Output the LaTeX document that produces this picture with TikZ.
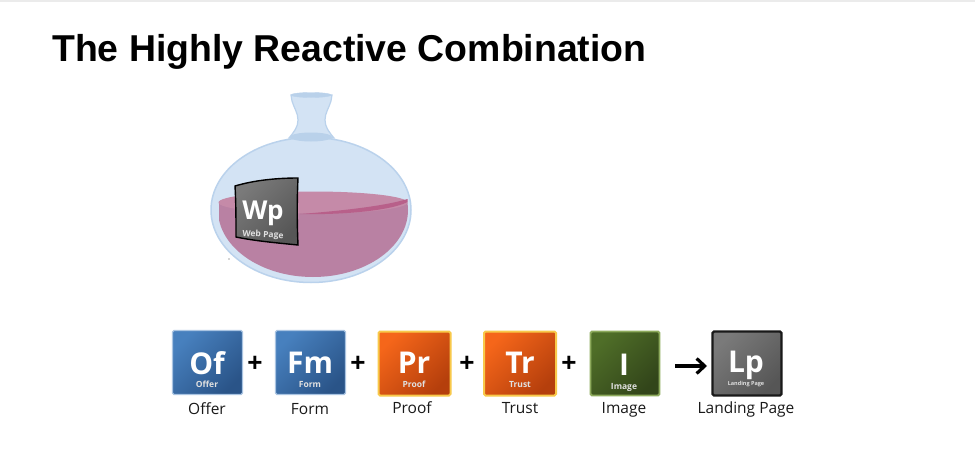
\documentclass[tikz,border=0pt]{standalone}
\usepackage{fontspec}
\setmainfont{Liberation Sans}
\newfontfamily\lab{Open Sans}
\usetikzlibrary{arrows.meta}
\definecolor{glass}{HTML}{D3E3F4}
\definecolor{glassedge}{HTML}{BAD2EC}
\definecolor{glassdark}{HTML}{B9D1EA}
\definecolor{liq}{HTML}{B981A3}
\definecolor{liqtop}{HTML}{C58AA8}
\definecolor{liqrim}{HTML}{B8608A}
\definecolor{MyEdgeB}{HTML}{A9C4E2}
\definecolor{BlueA}{HTML}{4780BE}
\definecolor{BlueB}{HTML}{2A5488}
\definecolor{OrEdge}{HTML}{F8C94A}
\definecolor{OrA}{HTML}{F5661A}
\definecolor{OrB}{HTML}{B53F0C}
\definecolor{GrEdge}{HTML}{8DAA5C}
\definecolor{GrA}{HTML}{4F6E28}
\definecolor{GrB}{HTML}{32451A}
\definecolor{GyA}{HTML}{7A7A7A}
\definecolor{GyB}{HTML}{565656}
\tikzset{
  tile/.style={minimum width=#1, minimum height=64pt, inner sep=0pt, outer sep=0pt, rounded corners=1.5pt, shade},
  bluetile/.style={tile=70pt, line width=1.2pt, draw=MyEdgeB, top color=BlueA, bottom color=BlueB, shading angle=45},
  orangetile/.style={tile=72pt, line width=2pt, draw=OrEdge, top color=OrA, bottom color=OrB, shading angle=45},
  greentile/.style={tile=69pt, line width=1.8pt, draw=GrEdge, top color=GrA, bottom color=GrB, shading angle=45},
  greytile/.style={tile=69pt, draw=black!90, line width=2.2pt, top color=GyA, bottom color=GyB, shading angle=45},
  sym/.style={text=white, font=\lab\bfseries\fontsize{30}{30}\selectfont, inner sep=0pt},
  sub/.style={text=white!88!black, font=\lab\bfseries\fontsize{8.5}{9}\selectfont, inner sep=0pt},
  captext/.style={text=black!90, anchor=base, font=\lab\fontsize{15.5}{16}\selectfont, inner sep=0pt},
  op/.style={text=black, font=\bfseries\fontsize{26}{26}\selectfont, inner sep=0pt},
  arr/.style={-{Straight Barb[length=8pt,width=15pt,line width=3.2pt]}, line width=3.2pt, black}
}
\begin{document}
\begin{tikzpicture}[x=1pt,y=-1pt]
\useasboundingbox (0,0) rectangle (975,463);
\fill[white] (0,0) rectangle (975,463);
\fill[black!8!white] (0,0) rectangle (975,1.5);
\node[anchor=base west, inner sep=0pt, font=\bfseries\fontsize{37.4}{38}\selectfont] (title) at (52,61) {The Highly Reactive Combination};
% flask
\fill[glass, draw=glassedge, line width=1.2pt]
  (291,95) -- (292,101) .. controls (294,108) and (298,113) .. (298,120)
  .. controls (298,127) and (294,132) .. (289,138)
  -- (334,138) .. controls (329,132) and (325,127) .. (325,120)
  .. controls (325,113) and (329,108) .. (331,101) -- (332,95) -- cycle;
\fill[glass, draw=glassedge, line width=1.5pt] (311,210) ellipse [x radius=100, y radius=72.5];
\fill[glassdark] (311,137) ellipse [x radius=21, y radius=4.5];
\fill[glassdark, draw=glassedge] (311,95) ellipse [x radius=20, y radius=2.5];
\begin{scope}
\clip (219,202) rectangle (408,280);
\fill[liq] (313,210) ellipse [x radius=95, y radius=67];
\end{scope}
\fill[liqtop] (313,202.5) ellipse [x radius=94.5, y radius=11];
\fill[liqrim] (407.5,202) .. controls (390,211) and (340,215) .. (300,214) .. controls (340,211) and (385,206) .. (407.5,199) -- cycle;
\fill[black!70] (229,259) circle [radius=0.7];
% web page tile
\path[top color=GyA, bottom color=GyB, shading angle=45, draw=black, line width=1.4pt]
  (235,186) .. controls (255,180) and (278,178) .. (298,178)
  .. controls (297,200) and (297,222) .. (298,245)
  .. controls (278,243) and (255,241) .. (236,237)
  .. controls (236,220) and (236,203) .. (235,186) -- cycle;
\node[sym, font=\lab\bfseries\fontsize{26}{26}\selectfont] (wp) at (263,213) {Wp};
\node[sub, rotate=-3, font=\lab\bfseries\fontsize{8.5}{10}\selectfont] (wpsub) at (263,235) {Web Page};
% tiles
\node[bluetile] (of) at (207.5,362.5) {};
\node[bluetile] (fm) at (310.5,362.5) {};
\node[orangetile] (pr) at (414.5,363.5) {};
\node[orangetile] (tr) at (520,363.5) {};
\node[greentile] (im) at (625,363.5) {};
\node[greytile] (lp) at (747,363.5) {};
\node[sym] (ofs) at (207,363) {Of};
\node[sym] (fms) at (310,363) {Fm};
\node[sym] (prs) at (414,363) {Pr};
\node[sym] (trs) at (520,363) {Tr};
\node[sym] (ims) at (624,365) {I};
\node[sym] (lps) at (746,365) {Lp};
\node[sub] (ofb) at (207,384.5) {Offer};
\node[sub] (fmb) at (310,384.5) {Form};
\node[sub] (prb) at (414,384.5) {Proof};
\node[sub] (trb) at (520,384.5) {Trust};
\node[sub] (imb) at (624,387) {Image};
\node[sub, font=\lab\bfseries\fontsize{5.5}{6}\selectfont] (lpb) at (746,384.5) {Landing Page};
\node[captext] (ofc) at (207,414) {Offer};
\node[captext] (fmc) at (310,414) {Form};
\node[captext] (prc) at (412,413) {Proof};
\node[captext] (trc) at (520,413) {Trust};
\node[captext] (imc) at (624,413) {Image};
\node[captext] (lpc) at (746,413) {Landing Page};
\node[op] (p1) at (255,364) {+};
\node[op] (p2) at (358,364) {+};
\node[op] (p3) at (467,364) {+};
\node[op] (p4) at (569,364) {+};
\coordinate (as) at (675,366);
\coordinate (ae) at (707,366);
\draw[arr] (as) -- (ae);
\end{tikzpicture}
\end{document}
